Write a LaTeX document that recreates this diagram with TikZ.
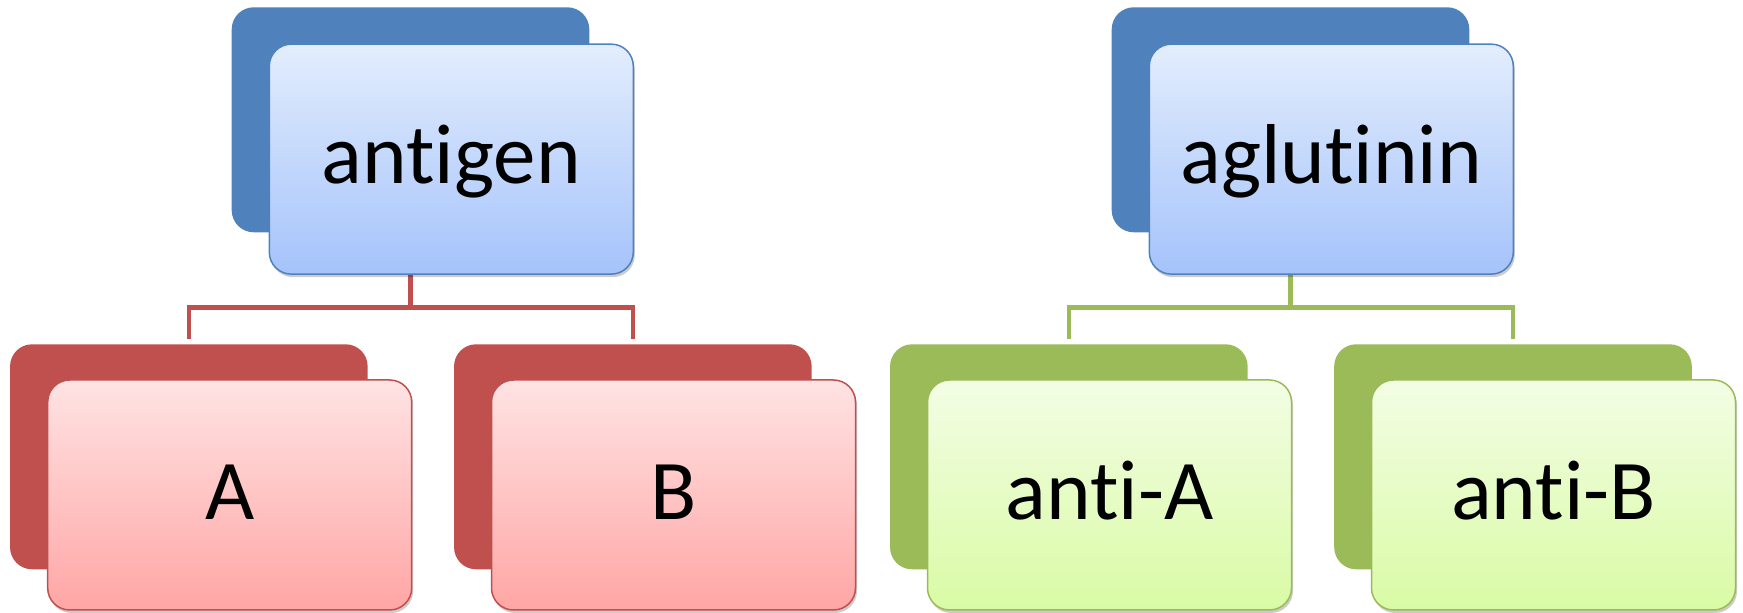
\documentclass[tikz,border=0pt]{standalone}
\usepackage{fontspec}
\setmainfont{Carlito}[Ligatures={NoCommon,NoContextual}]
\usetikzlibrary{shadows,calc}
\definecolor{blueD}{HTML}{4F81BD}
\definecolor{blueT}{HTML}{E3EDFD}
\definecolor{blueB}{HTML}{A5C3FB}
\definecolor{redD}{HTML}{C0504D}
\definecolor{redT}{HTML}{FFE3E4}
\definecolor{redB}{HTML}{FFA6A5}
\definecolor{greenD}{HTML}{9BBB59}
\definecolor{greenT}{HTML}{F3FDE5}
\definecolor{greenB}{HTML}{D9FBA5}
\begin{document}
\begin{tikzpicture}[x=1pt,y=1pt,
  backbox/.style={rounded corners=22pt, minimum width=357.6pt, minimum height=225pt, inner sep=0pt, fill=#1},
  frontbox/.style={rounded corners=22pt, minimum width=364pt, minimum height=230pt, inner sep=0pt,
    line width=1.5pt, text height=48.3pt, text depth=0pt, font=\fontsize{85}{100}\selectfont,
    drop shadow={shadow xshift=1.5pt, shadow yshift=-3pt, opacity=0.2, fill=black}},
  bluefront/.style={frontbox, draw=blueD, top color=blueT, bottom color=blueB},
  redfront/.style={frontbox, draw=redD, top color=redT, bottom color=redB},
  greenfront/.style={frontbox, draw=greenD, top color=greenT, bottom color=greenB},
  conn/.style={line width=4.5pt, draw=#1}]
\useasboundingbox (0,0) rectangle (1743,613);
% back boxes
\node[backbox=blueD] (antigenBack) at (410.5,493.2) {};
\node[backbox=blueD] (aglutininBack) at (1290.5,493.2) {};
\node[backbox=redD] (ABack) at (188.85,156.2) {};
\node[backbox=redD] (BBack) at (632.85,156.2) {};
\node[backbox=greenD] (antiABack) at (1068.85,156.2) {};
\node[backbox=greenD] (antiBBack) at (1513,156.2) {};
% junctions
\coordinate (jL) at (410.5,305.5);
\coordinate (jR) at (1290.5,305.5);
\coordinate (tA) at ([yshift=5.3pt]ABack.north);
\coordinate (tB) at ([yshift=5.3pt]BBack.north);
\coordinate (tAA) at ([yshift=5.3pt]antiABack.north);
\coordinate (tAB) at ([yshift=5.3pt]antiBBack.north);
% connectors
\draw[conn=redD] (antigenBack.center |- 0,339) -- (jL);
\draw[conn=redD] (tA) |- (jL) -| (tB);
\draw[conn=greenD] (aglutininBack.center |- 0,339) -- (jR);
\draw[conn=greenD] (tAA) |- (jR) -| (tAB);
% front boxes
\node[bluefront] (antigen) at (451.3,453.85) {antigen};
\node[bluefront] (aglutinin) at (1331.3,453.85) {aglutinin};
\node[redfront] (A) at (229.7,118) {A};
\node[redfront] (B) at (673.5,118) {B};
\node[greenfront] (antiA) at (1109.5,118) {anti-A};
\node[greenfront] (antiB) at (1553.5,118) {anti-B};
\end{tikzpicture}
\end{document}
